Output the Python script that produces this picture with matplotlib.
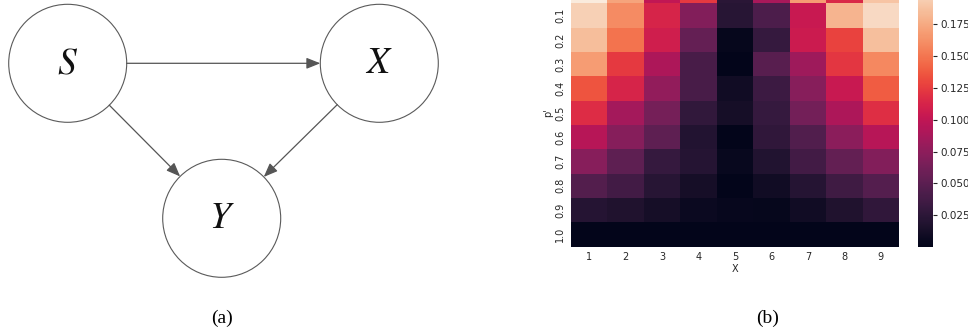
import numpy as np
import matplotlib
matplotlib.use('Agg')
from matplotlib import pyplot as plt
from matplotlib.patches import Circle, FancyArrowPatch
import seaborn as sns

plt.rcParams['mathtext.fontset'] = 'stix'

# causal graph: node labels and edges
nodes = ['S', 'X', 'Y']
edges = [('S', 'X'), ('S', 'Y'), ('X', 'Y')]

# heatmap: rows are p', columns are X
x_vals = [1, 2, 3, 4, 5, 6, 7, 8, 9]
p_vals = ['0.0', '0.1', '0.2', '0.3', '0.4', '0.5', '0.6', '0.7', '0.8', '0.9', '1.0']
scores = [
    [0.210, 0.172, 0.100, 0.124, 0.024, 0.088, 0.168, 0.115, 0.188],
    [0.195, 0.160, 0.112, 0.070, 0.022, 0.043, 0.104, 0.180, 0.200],
    [0.185, 0.148, 0.108, 0.055, 0.003, 0.030, 0.106, 0.128, 0.186],
    [0.168, 0.124, 0.090, 0.040, 0.0005, 0.048, 0.083, 0.122, 0.158],
    [0.135, 0.112, 0.077, 0.040, 0.010, 0.034, 0.072, 0.104, 0.138],
    [0.117, 0.086, 0.063, 0.028, 0.012, 0.030, 0.062, 0.090, 0.118],
    [0.095, 0.071, 0.052, 0.020, 0.001, 0.027, 0.045, 0.074, 0.095],
    [0.072, 0.052, 0.030, 0.021, 0.005, 0.019, 0.037, 0.054, 0.070],
    [0.046, 0.037, 0.022, 0.012, 0.001, 0.010, 0.021, 0.035, 0.047],
    [0.021, 0.018, 0.012, 0.007, 0.004, 0.003, 0.010, 0.018, 0.027],
    [0.0005, 0.001, 0.001, 0.0005, 0.0005, 0.0005, 0.0005, 0.0005, 0.0005],
]

W, H = 968, 333
fig = plt.figure(figsize=(W / 100, H / 100), dpi=100)

# --- (a) graph, drawn in pixel units ---
ax0 = fig.add_axes([0, 0, 0.5, 1])
ax0.set_xlim(0, W * 0.5)
ax0.set_ylim(H, 0)
ax0.axis('off')
pos = {'S': (67.7, 63.3), 'X': (379.3, 63.3), 'Y': (221.7, 218.3)}
r = 59
for n in nodes:
    cx, cy = pos[n]
    ax0.add_patch(Circle((cx, cy), r, facecolor='white', edgecolor='#5a5a5a', lw=0.8))
    ax0.text(cx, cy, '$%s$' % n, ha='center', va='center', fontsize=27, color='#111111')
for a, b in edges:
    p0, p1 = np.array(pos[a]), np.array(pos[b])
    d = (p1 - p0) / np.linalg.norm(p1 - p0)
    arr = FancyArrowPatch(p0 + d * r, p1 - d * r, arrowstyle='-|>,head_length=0.7,head_width=0.28',
                          mutation_scale=12, color='#555555', lw=0.9, shrinkA=0, shrinkB=0)
    ax0.add_patch(arr)
fig.text(221.7 / W, 1 - 318 / H, '(a)', ha='center', va='center', fontsize=14, family='Liberation Serif')

# --- (b) heatmap ---
ax1 = fig.add_axes([571 / W, 86.3 / H, 328 / W, 267.7 / H])
cax = fig.add_axes([918 / W, 86.3 / H, 15 / W, 267.7 / H])
sns.heatmap(np.array(scores), ax=ax1, cbar_ax=cax, cmap='rocket',
            xticklabels=x_vals, yticklabels=p_vals)
ax1.tick_params(length=0, labelsize=7, colors='#262626', pad=4)
ax1.set_yticklabels(p_vals, rotation=90, va='center')
ax1.set_xlabel('X', fontsize=7, color='#262626', labelpad=1)
ax1.set_ylabel("p'", fontsize=7, color='#262626', labelpad=2)
cax.tick_params(length=3, width=0.8, labelsize=7.5, colors='#262626', pad=2)
fig.text(768 / W, 1 - 318 / H, '(b)', ha='center', va='center', fontsize=14, family='Liberation Serif')

plt.savefig('out.png', dpi=100)
plt.close()
